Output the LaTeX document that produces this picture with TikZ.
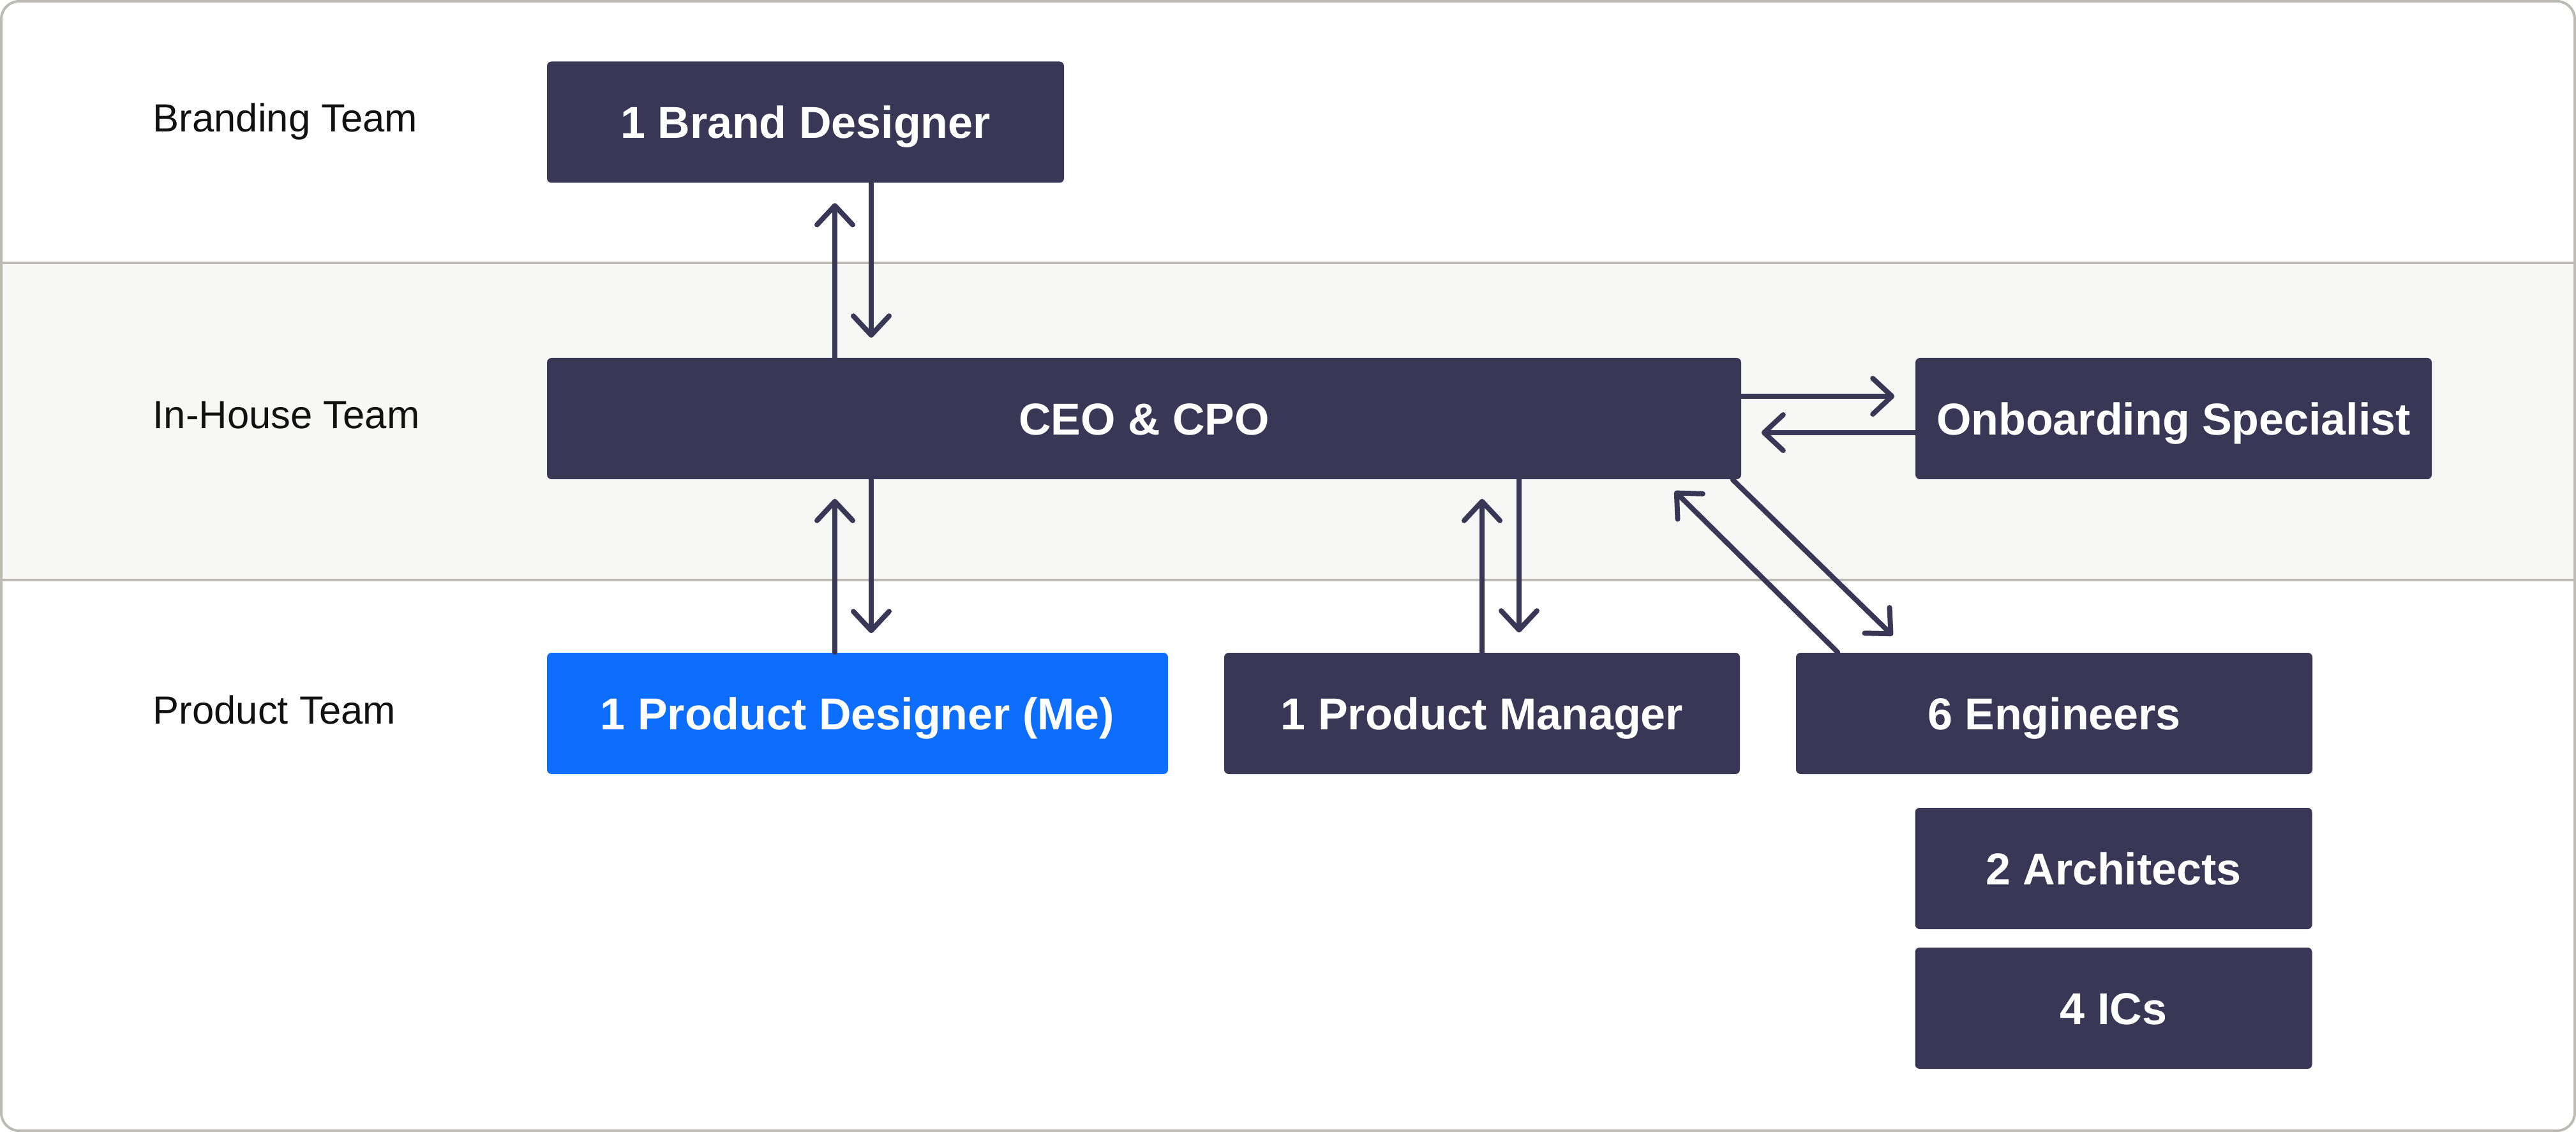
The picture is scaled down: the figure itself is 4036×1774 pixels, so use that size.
\documentclass[tikz,border=0pt]{standalone}
\usepackage{fontspec}
\setmainfont{Liberation Sans}
\usetikzlibrary{arrows.meta,calc}
\definecolor{boxdark}{HTML}{3A3656}
\definecolor{boxblue}{HTML}{0D6EFD}
\definecolor{bandfill}{HTML}{F7F7F5}
\definecolor{rulegray}{HTML}{BBBBB4}
\definecolor{labelink}{HTML}{111111}
\begin{document}
\begin{tikzpicture}[x=0.25pt,y=-0.25pt,
  teambox/.style={rectangle, rounded corners=1.75pt, fill=boxdark, text=white, inner sep=0pt,
    minimum height=47.5pt, font=\fontsize{17.5pt}{21pt}\selectfont\bfseries,
    text height=12.53pt, text depth=0pt},
  teamlabel/.style={anchor=west, inner sep=0pt, text=labelink,
    font=\fontsize{15.4pt}{18pt}\selectfont, text height=11.03pt, text depth=0pt},
  link/.style={draw=boxdark, line width=2pt, line cap=round,
    -{Straight Barb[length=7.5pt,width=14pt,round]}},
]
\useasboundingbox (0,0) rectangle (4036,1774);
% bands
\fill[white] (2,2) rectangle (4034,1772);
\fill[bandfill] (4,412) rectangle (4032,909);
\draw[rulegray, line width=1pt] (2,412) -- (4034,412);
\draw[rulegray, line width=1pt] (2,909) -- (4034,909);
\draw[rulegray, line width=1pt, rounded corners=7pt] (2,2) rectangle (4034,1772);

% labels
\node[teamlabel] (lbrand) at (239,184) {Branding Team};
\node[teamlabel] (lhouse) at (239,649) {In-House Team};
\node[teamlabel] (lprod) at (239,1112) {Product Team};

% boxes
\node[teambox, minimum width=202.5pt] (brand) at (1262,191.5) {1 Brand Designer};
\node[teambox, minimum width=467.75pt] (ceo) at (1792.5,656) {CEO \& CPO};
\node[teambox, minimum width=202.25pt] (onb) at (3405.5,656) {Onboarding Specialist};
\node[teambox, fill=boxblue, minimum width=243.25pt] (pd) at (1343.5,1118) {1 Product Designer (Me)};
\node[teambox, minimum width=202pt] (pm) at (2322,1118) {1 Product Manager};
\node[teambox, minimum width=202.25pt] (eng) at (3218.5,1118) {6 Engineers};
\node[teambox, minimum width=155.5pt] (arch) at (3311.5,1361) {2 Architects};
\node[teambox, minimum width=155.5pt] (ics) at (3311.5,1580) {4 ICs};

% helper coordinates
\coordinate (xa) at (1308,0);
\coordinate (xb) at (1365,0);
\coordinate (xc) at (2322,0);
\coordinate (xd) at (2380,0);
\coordinate (ya) at (0,621);
\coordinate (yb) at (0,678);

% connectors
\draw[link, shorten >=7.75pt] (ceo.north -| xa) -- (brand.south -| xa);
\draw[link, shorten >=7.75pt] (brand.south -| xb) -- (ceo.north -| xb);
\draw[link, shorten >=7.5pt] (pd.north -| xa) -- (ceo.south -| xa);
\draw[link, shorten >=7.5pt] (ceo.south -| xb) -- (pd.north -| xb);
\draw[link, shorten >=7.5pt] (pm.north -| xc) -- (ceo.south -| xc);
\draw[link, shorten >=7.75pt] (ceo.south -| xd) -- (pm.north -| xd);
\draw[link, shorten >=8pt] (ceo.east |- ya) -- (onb.west |- ya);
\draw[link, shorten >=7.75pt] (onb.west |- yb) -- (ceo.east |- yb);
\draw[link, shorten >=9.4pt] ($(ceo.south east)+(-14,0)$) -- ($(eng.north west)+(179,0)$);
\draw[link, shorten >=6.4pt] ($(eng.north west)+(66,0)$) -- ($(ceo.south east)+(-123,0)$);
\end{tikzpicture}
\end{document}
